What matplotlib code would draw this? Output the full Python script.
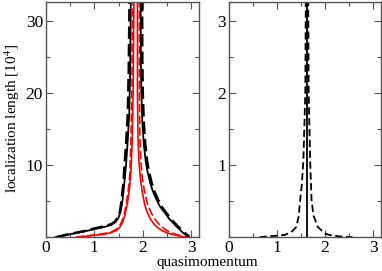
import matplotlib
matplotlib.use("Agg")
import matplotlib.pyplot as plt
from matplotlib.ticker import MultipleLocator, FixedLocator

plt.rcParams['font.family'] = ['Liberation Serif', 'DejaVu Serif']
plt.rcParams['mathtext.fontset'] = 'stix'

# left panel, curves (y in units of 10^4)
blk_solid_x = [0.20, 0.5, 0.8, 1.0, 1.2, 1.35, 1.44, 1.5, 1.54, 1.58, 1.62, 1.66,
               1.69, 1.72, 1.74, 1.755,
               1.955, 1.96, 1.97, 1.99, 2.02, 2.06, 2.1, 2.15, 2.2, 2.27, 2.35,
               2.45, 2.55, 2.65, 2.75, 2.83, 2.89, 2.93]
blk_solid_y = [0, 0.4, 0.8, 1.1, 1.4, 1.7, 2.1, 2.7, 3.5, 5.0, 7.5, 10.5,
               13.5, 17, 23, 35,
               35, 25, 20, 16, 13, 10.5, 9, 7.6, 6.5, 5.4, 4.3,
               3.4, 2.5, 1.8, 1.1, 0.6, 0.3, 0]
blk_dash_x = [0.22, 0.5, 0.8, 1.0, 1.2, 1.35, 1.43, 1.49, 1.53, 1.56, 1.6, 1.63,
              1.66, 1.69, 1.71, 1.73,
              1.985, 1.99, 2.0, 2.02, 2.05, 2.09, 2.13, 2.18, 2.23, 2.3, 2.38,
              2.48, 2.58, 2.68, 2.78, 2.86, 2.92, 2.96]
blk_dash_y = [0, 0.45, 0.85, 1.2, 1.5, 1.8, 2.2, 2.8, 3.6, 5.0, 7.5, 10.5,
              13.5, 17, 23, 35,
              35, 25, 20, 16, 13, 10.5, 9, 7.6, 6.5, 5.4, 4.3,
              3.4, 2.5, 1.8, 1.1, 0.6, 0.3, 0]
red_solid_x = [0.66, 1.0, 1.2, 1.34, 1.45, 1.52, 1.58, 1.63, 1.68, 1.72, 1.75,
               1.78, 1.8, 1.82,
               1.89, 1.89, 1.9, 1.92, 1.95, 1.99, 2.04, 2.1, 2.16, 2.22, 2.3,
               2.4, 2.5, 2.6, 2.7, 2.8, 2.88]
red_solid_y = [0, 0.25, 0.4, 0.6, 0.9, 1.3, 2.0, 3.0, 4.6, 6.5, 8.5,
               13, 20, 35,
               35, 20, 14, 10.5, 8.2, 6.2, 4.5, 3.3, 2.5, 1.9, 1.35,
               0.9, 0.6, 0.4, 0.25, 0.1, 0]
red_dash_x = [0.62, 1.0, 1.2, 1.34, 1.44, 1.51, 1.57, 1.62, 1.66, 1.7, 1.73,
              1.755, 1.775, 1.79,
              1.93, 1.93, 1.94, 1.96, 1.99, 2.04, 2.1, 2.18, 2.25, 2.32, 2.41,
              2.5, 2.6, 2.68, 2.76, 2.84, 2.9]
red_dash_y = [0, 0.3, 0.5, 0.7, 1.0, 1.45, 2.2, 3.2, 4.6, 6.5, 8.5,
              13, 20, 35,
              35, 20, 14, 10.5, 8.2, 6.2, 4.5, 3.3, 2.5, 1.9, 1.35,
              0.9, 0.6, 0.4, 0.25, 0.05, 0]

# right panel
r_solid_x = [1.63, 1.63]
r_solid_y = [0, 4]
r_dash_x = [0.64, 1.0, 1.16, 1.3, 1.40, 1.45, 1.48, 1.52, 1.55, 1.59, 1.605,
            1.645, 1.66, 1.69, 1.72, 1.76, 1.85, 2.0, 2.09, 2.3, 2.57]
r_dash_y = [0, 0.02, 0.03, 0.07, 0.14, 0.28, 0.5, 0.75, 1.07, 2.0, 4,
            4, 2.0, 1.07, 0.51, 0.3, 0.14, 0.05, 0.03, 0.01, 0]

fig = plt.figure(figsize=(3.82, 2.71), dpi=100)
ax1 = fig.add_axes([0.120, 0.125, 0.401, 0.867])
ax2 = fig.add_axes([0.599, 0.125, 0.398, 0.867])

ax1.plot(blk_solid_x, blk_solid_y, color='black', lw=1.3)
ax1.plot(blk_dash_x, blk_dash_y, color='black', lw=1.8, dashes=(5, 2))
ax1.plot(red_solid_x, red_solid_y, color='red', lw=1.2)
ax1.plot(red_dash_x, red_dash_y, color='red', lw=1.2, dashes=(5, 2))

ax2.plot(r_solid_x, r_solid_y, color='black', lw=1.3)
ax2.plot(r_dash_x, r_dash_y, color='black', lw=1.3, dashes=(4, 2))

for ax, top, step in [(ax1, 32.6, 10), (ax2, 3.26, 1)]:
    ax.set_xlim(0, 3.16)
    ax.set_ylim(0, top)
    ax.xaxis.set_major_locator(FixedLocator([0, 1, 2, 3]))
    ax.xaxis.set_minor_locator(MultipleLocator(0.5))
    ax.yaxis.set_major_locator(FixedLocator([step, 2 * step, 3 * step]))
    ax.yaxis.set_minor_locator(MultipleLocator(step / 2))
    ax.tick_params(which='both', direction='in', top=True, right=True,
                   colors='#555555', labelcolor='black', labelsize=12.5, width=0.8)
    ax.tick_params(which='major', length=5, pad=2)
    ax.tick_params(which='minor', length=3)
    for s in ax.spines.values():
        s.set_color('#555555')
        s.set_linewidth(1.0)

fig.text(0.542, 0.033, 'quasimomentum', ha='center', va='center', fontsize=11)
fig.text(0.033, 0.565, 'localization length [10$^4$]', rotation=90,
         ha='center', va='center', fontsize=11)

fig.savefig('out.png', dpi=100)
